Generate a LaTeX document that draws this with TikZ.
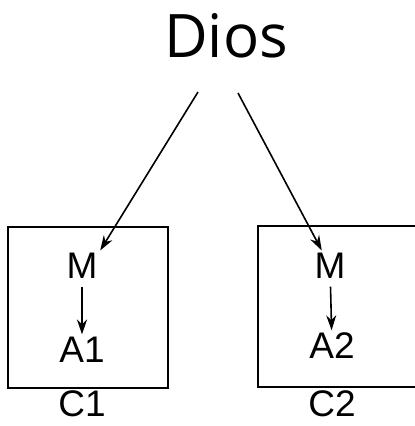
\documentclass[tikz,border=0pt]{standalone}
\usepackage{fontspec}
\setmainfont{Liberation Sans}
\newfontfamily\diosfont{Open Sans}
\usetikzlibrary{positioning,arrows.meta}

\begin{document}
\begin{tikzpicture}[x=1pt,y=-1pt,line width=1.6pt]
  \tikzset{
  lbl/.style={
    inner sep=2pt,
    font=\fontsize{37}{40}\selectfont
  },
  caja/.style={
    rectangle,
    draw=black,
    line width=1.6pt,
    minimum width=160pt,
    minimum height=161pt
  },
  flecha/.style={
    -{Stealth[length=15pt,width=10pt]}
  }
}
\clip (0,0) rectangle (415,426);
\node[anchor=base,inner sep=0pt,font=\diosfont\fontsize{60}{64}\selectfont] at (226,57)
  (dios) {Dios};
\node[caja] at (88,307.5)
  (caja1) {};
\node[caja] at (338,306.5)
  (caja2) {};
\node[lbl] at (82,266)
  (m1) {M};
\node[lbl] at (82,350)
  (a1) {A1};
\node[lbl] at (330,266)
  (m2) {M};
\node[lbl] at (332,346)
  (a2) {A2};
\node[lbl,inner sep=0pt] at (82,404)
  (c1) {C1};
\node[lbl,inner sep=0pt] at (332,404)
  (c2) {C2};
\coordinate (s1) at (198,92);
\coordinate (s2) at (238,93);

  \draw[flecha] (s1) -- (m1.north east);
  \draw[flecha] (s2) -- (m2);

  \draw[flecha,shorten <=5pt] (m1) -- (a1);
  \draw[flecha,shorten <=5pt] (m2) -- (a2);

\end{tikzpicture}
\end{document}
